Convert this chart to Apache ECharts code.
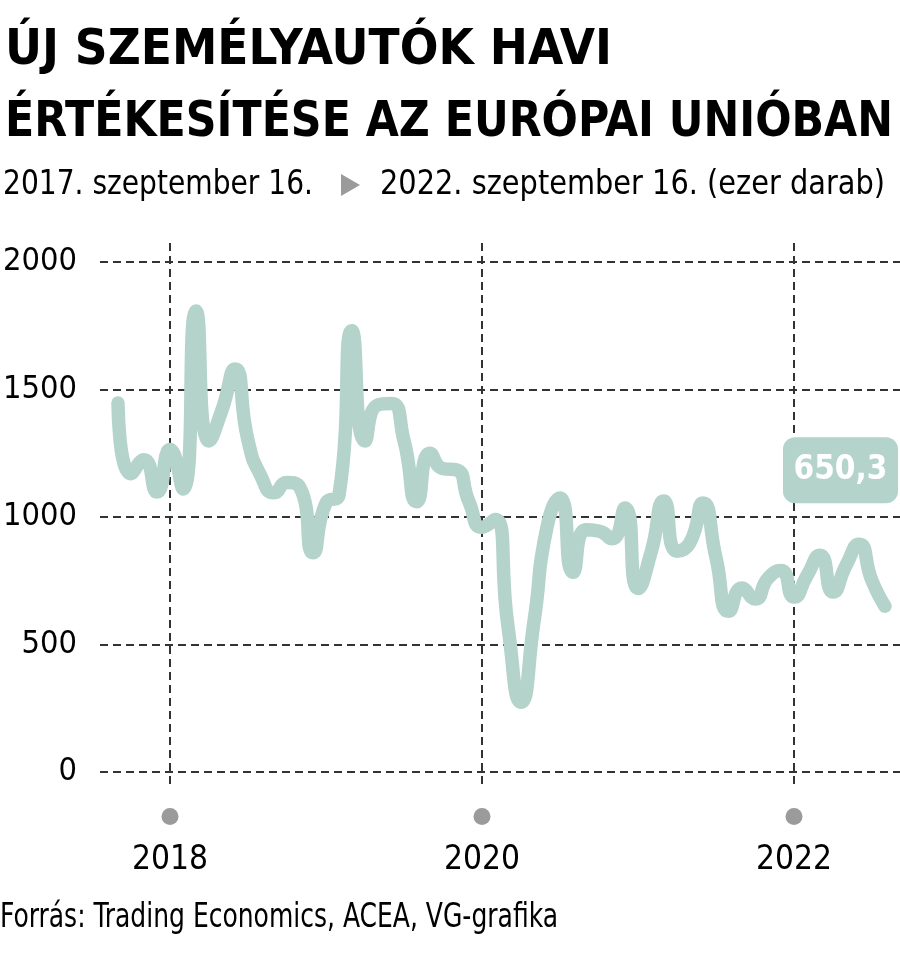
<!DOCTYPE html>
<html><head><meta charset="utf-8">
<script src="https://cdn.jsdelivr.net/npm/echarts@6/dist/echarts.min.js"></script>
<style>html,body{margin:0;padding:0;background:#fff}#c{width:900px;height:954px}</style>
</head><body><div id="c"></div>
<script>
const titleLines = ['ÚJ SZEMÉLYAUTÓK HAVI', 'ÉRTÉKESÍTÉSE AZ EURÓPAI UNIÓBAN'];
const subtitleStart = '2017. szeptember 16.';
const subtitleEnd = '2022. szeptember 16. (ezer darab)';
const sourceText = 'Forrás: Trading Economics, ACEA, VG-grafika';

const months = [
 '2017-09','2017-10','2017-11','2017-12',
 '2018-01','2018-02','2018-03','2018-04','2018-05','2018-06','2018-07','2018-08','2018-09','2018-10','2018-11','2018-12',
 '2019-01','2019-02','2019-03','2019-04','2019-05','2019-06','2019-07','2019-08','2019-09','2019-10','2019-11','2019-12',
 '2020-01','2020-02','2020-03','2020-04','2020-05','2020-06','2020-07','2020-08','2020-09','2020-10','2020-11','2020-12',
 '2021-01','2021-02','2021-03','2021-04','2021-05','2021-06','2021-07','2021-08','2021-09','2021-10','2021-11','2021-12',
 '2022-01','2022-02','2022-03','2022-04','2022-05','2022-06','2022-07','2022-08'
];
const sales = [
 1447,1170,1225,1098,
 1265,1110,1808,1298,1420,1580,1300,1160,1095,1135,1115,860,
 1055,1085,1730,1298,1440,1445,1300,1060,1250,1190,1185,1060,
 960,990,570,274,590,960,1075,783,950,945,915,1035,
 720,860,1063,866,900,1055,840,630,722,678,760,790,
 686,770,850,706,810,893,750,650.3
];
const yTickValues = [0, 500, 1000, 1500, 2000];
const yearTicks = ['2018', '2020', '2022'];

const FF = '"Liberation Sans Narrow","DejaVu Sans Condensed","Arial Narrow",sans-serif';
const LINE_COLOR = '#b4d3cb';
const GRID_COLOR = '#333333';

const cv = document.createElement('canvas').getContext('2d');
function measure(text, weight, size) {
  cv.font = weight + ' ' + size + 'px ' + FF;
  return cv.measureText(text).width;
}
function fit(text, weight, target) {
  return 100 * target / measure(text, weight, 100);
}
// text drawn at a size chosen from its cap height, then condensed horizontally to the reference width
function condensed(text, weight, size, targetW, x, y) {
  const w = measure(text, weight, size);
  return {type: 'text', x: x, y: y, scaleX: targetW / w, scaleY: 1,
    style: {text: text, fontSize: size, fontWeight: weight, fontFamily: FF, fill: '#000',
            verticalAlign: 'middle', align: 'left'}};
}
const yLabSize = Math.min(fit('2000', 'normal', 74), 40);
const yearSize = Math.min(fit('2018', 'normal', 76), 42);
const boxSize = Math.min(fit('650,3', 'bold', 94), 42);
const boxTextW = measure('650,3', 'bold', boxSize);
const boxPadX = Math.max(4, (115 - boxTextW) / 2);

// month index relative to January 2018
function monthIndex(s) {
  const [y, m] = s.split('-').map(Number);
  return (y - 2018) * 12 + (m - 1);
}
const seriesData = months.map((m, i) => [monthIndex(m), sales[i]]);
const last = seriesData[seriesData.length - 1];

const chart = echarts.init(document.getElementById('c'), null, {renderer: 'canvas'});
const dash = {color: GRID_COLOR, width: 2, type: [8, 5]};

chart.setOption({
  backgroundColor: '#fff',
  animation: false,
  grid: [
    {left: 100, right: 0, top: 262, bottom: 182, outerBoundsMode: 'none', containLabel: false},
    {left: -142, right: -206, top: 243, bottom: 167, outerBoundsMode: 'none', containLabel: false},
    {left: -142, right: -206, top: 262, bottom: 182, outerBoundsMode: 'none', containLabel: false}
  ],
  xAxis: [
    {gridIndex: 0, type: 'value', min: 0, max: 1, show: false},
    {gridIndex: 1, type: 'value', min: -24, max: 72, interval: 24,
     axisLine: {show: false}, axisTick: {show: false},
     splitLine: {show: true, lineStyle: dash},
     axisLabel: {
       margin: 21,
       formatter: v => {
         const t = yearTicks[v / 24];
         return t ? '{d|}\n{y|' + t + '}' : '';
       },
       rich: {
         d: {width: 17, height: 17, lineHeight: 17, borderRadius: 8.5, backgroundColor: '#9b9b9b'},
         y: {fontSize: yearSize, fontFamily: FF, color: '#000', lineHeight: 71}
       }
     }},
    {gridIndex: 2, type: 'value', min: -24, max: 72, show: false}
  ],
  yAxis: [
    {gridIndex: 0, type: 'value', min: yTickValues[0], max: yTickValues[yTickValues.length - 1],
     interval: yTickValues[1] - yTickValues[0],
     axisLine: {show: false}, axisTick: {show: false},
     splitLine: {show: true, lineStyle: dash},
     axisLabel: {margin: 23, fontSize: yLabSize, fontFamily: FF, color: '#000', formatter: v => String(v)}},
    {gridIndex: 1, type: 'value', min: 0, max: 1, show: false},
    {gridIndex: 2, type: 'value', min: yTickValues[0], max: yTickValues[yTickValues.length - 1], show: false}
  ],
  series: [{
    type: 'line',
    xAxisIndex: 2, yAxisIndex: 2,
    data: seriesData,
    smooth: 0.6,
    showSymbol: false,
    symbol: 'none',
    lineStyle: {width: 13.5, color: LINE_COLOR, cap: 'round', join: 'round'},
    z: 5,
    markPoint: {
      symbol: 'circle', symbolSize: 1,
      itemStyle: {color: 'rgba(0,0,0,0)'},
      data: [{coord: last, value: last[1]}],
      label: {
        show: true, position: 'inside', offset: [-44.5, -136],
        formatter: p => String(p.value).replace('.', ','),
        color: '#fff', fontWeight: 'bold', fontSize: boxSize, fontFamily: FF,
        backgroundColor: LINE_COLOR, borderRadius: 12,
        lineHeight: 46, padding: [10, boxPadX, 10, boxPadX]
      },
      z: 10
    }
  }],
  graphic: [
    condensed(titleLines[0], 'bold', 49, 607, 5, 51.5),
    condensed(titleLines[1], 'bold', 49, 888, 5, 123),
    condensed(subtitleStart, 'normal', 34, 310, 3, 185),
    {type: 'polygon', shape: {points: [[341, 174], [341, 196], [360, 185]]}, style: {fill: '#9b9b9b'}},
    condensed(subtitleEnd, 'normal', 34, 505, 380, 185),
    condensed(sourceText, 'normal', 34, 558, 0, 918)
  ]
});
</script>
</body></html>
